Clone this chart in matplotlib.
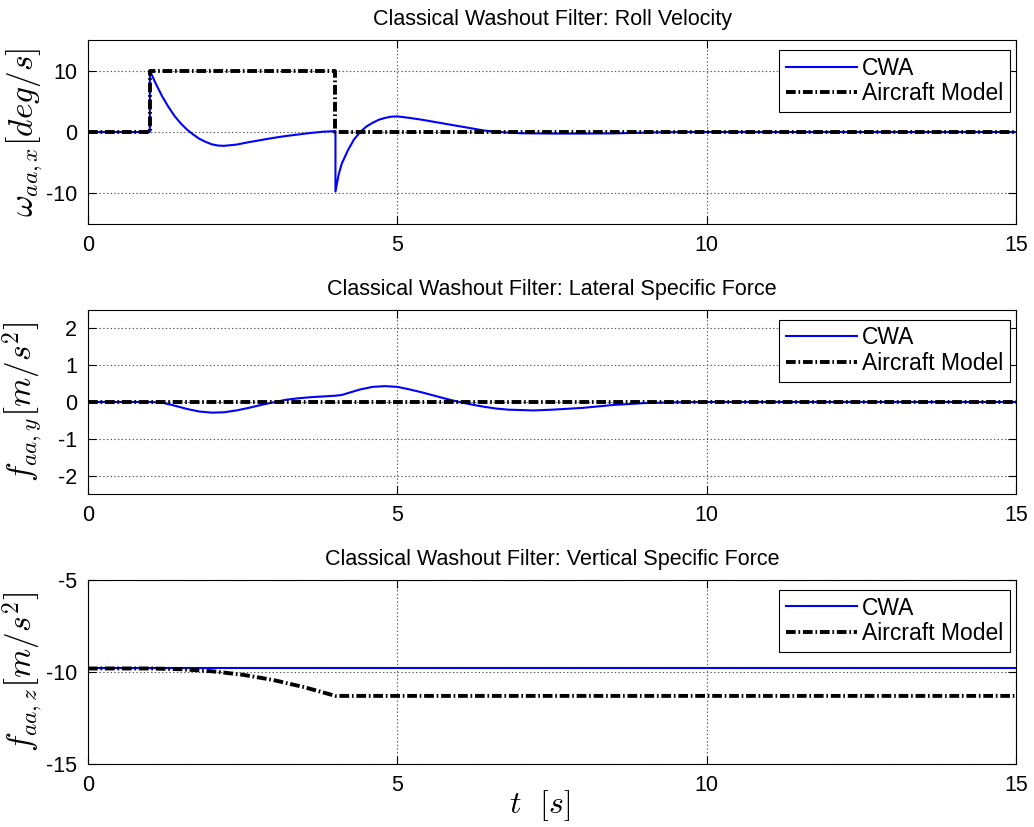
import matplotlib
matplotlib.use('Agg')
import matplotlib.pyplot as plt

plt.rcParams['font.family'] = ['Liberation Sans', 'DejaVu Sans']
plt.rcParams['mathtext.fontset'] = 'cm'
plt.rcParams['lines.scale_dashes'] = False
plt.rcParams['axes.unicode_minus'] = False

# roll velocity [deg/s]
t_roll_cwa = [0, 1.0, 1.0, 1.1, 1.2, 1.3, 1.4, 1.5, 1.6, 1.7, 1.8, 1.9, 2.0, 2.1, 2.2,
              2.4, 2.6, 2.8, 3.0, 3.2, 3.4, 3.6, 3.8, 4.0, 4.0, 4.05, 4.1, 4.2, 4.3,
              4.4, 4.5, 4.6, 4.7, 4.8, 4.9, 5.0, 5.2, 5.4, 5.6, 5.8, 6.0, 6.2, 6.4,
              6.6, 6.8, 7.0, 7.5, 8.0, 8.5, 8.8, 9.2, 9.6, 15]
roll_cwa = [0, 0, 10, 7.8, 5.8, 4.1, 2.6, 1.4, 0.4, -0.4, -1.1, -1.6, -2.0, -2.2, -2.25,
            -2.05, -1.65, -1.3, -0.95, -0.65, -0.4, -0.15, 0.05, 0.15, -9.7, -7.0, -5.2,
            -3.0, -1.2, 0.0, 0.9, 1.5, 2.0, 2.3, 2.5, 2.55, 2.3, 2.0, 1.65, 1.3, 0.95,
            0.6, 0.25, 0.05, -0.1, -0.2, -0.25, -0.25, -0.22, -0.15, -0.05, 0, 0]
t_roll_ac = [0, 1, 1, 4, 4, 15]
roll_ac = [0, 0, 10, 10, 0, 0]

# lateral specific force [m/s^2]
t_lat_cwa = [0, 1.0, 1.2, 1.4, 1.6, 1.8, 2.0, 2.2, 2.4, 2.6, 2.8, 3.0, 3.2, 3.4, 3.6,
             3.8, 4.0, 4.1, 4.2, 4.4, 4.6, 4.8, 5.0, 5.2, 5.4, 5.6, 5.8, 6.0, 6.2,
             6.4, 6.6, 6.8, 7.0, 7.2, 7.5, 8.0, 8.5, 9.0, 9.5, 10, 15]
lat_cwa = [0, 0, -0.02, -0.1, -0.19, -0.26, -0.29, -0.28, -0.23, -0.16, -0.08, -0.01,
           0.06, 0.1, 0.13, 0.15, 0.17, 0.19, 0.24, 0.34, 0.41, 0.43, 0.41, 0.34, 0.26,
           0.17, 0.08, 0.0, -0.07, -0.13, -0.18, -0.21, -0.22, -0.23, -0.21, -0.16,
           -0.08, -0.03, -0.01, 0, 0]
t_lat_ac = [0, 15]
lat_ac = [0, 0]

# vertical specific force [m/s^2]
t_vert_cwa = [0, 15]
vert_cwa = [-9.81, -9.81]
t_vert_ac = [0, 1.0, 1.5, 2.0, 2.5, 3.0, 3.5, 4.0, 15]
vert_ac = [-9.81, -9.81, -9.85, -9.96, -10.15, -10.44, -10.83, -11.3, -11.3]

titles = ['Classical Washout Filter: Roll Velocity',
          'Classical Washout Filter: Lateral Specific Force',
          'Classical Washout Filter: Vertical Specific Force']
ylabels = [r'$\omega_{aa,x}\left[deg/s\right]$',
           r'$f_{aa,y}\left[m/s^2\right]$',
           r'$f_{aa,z}\left[m/s^2\right]$']
ylims = [(-15, 15), (-2.5, 2.5), (-15, -5)]
yticks = [[-10, 0, 10], [-2, -1, 0, 1, 2], [-15, -10, -5]]
xticks = [0, 5, 10, 15]

data = [(t_roll_cwa, roll_cwa, t_roll_ac, roll_ac),
        (t_lat_cwa, lat_cwa, t_lat_ac, lat_ac),
        (t_vert_cwa, vert_cwa, t_vert_ac, vert_ac)]

fig = plt.figure(figsize=(10.34, 8.27), dpi=100)
bottoms = [0.7291, 0.4027, 0.0762]

for i in range(3):
    ax = fig.add_axes([0.0851, bottoms[i], 0.8975, 0.2225])
    tc, yc, ta, ya = data[i]
    ax.plot(tc, yc, color='b', lw=1.5, label='CWA')
    ax.plot(ta, ya, color='k', lw=2.8, linestyle=(0, (7, 2, 1.2, 2)), label='Aircraft Model')
    ax.set_xlim(0, 15)
    ax.set_ylim(*ylims[i])
    ax.set_xticks(xticks)
    ax.set_yticks(yticks[i])
    ax.grid(True, linestyle=':', color='0.35', lw=0.8)
    ax.tick_params(direction='in', top=True, right=True, length=6, labelsize=15.5, pad=8)
    ax.set_title(titles[i], fontsize=15.5, pad=11)
    ax.set_ylabel(ylabels[i], fontsize=24)
    ax.yaxis.set_label_coords(-0.046, 0.5)
    leg = ax.legend(loc='upper right', bbox_to_anchor=(0.9935, 0.945), fontsize=16.5,
                    fancybox=False, framealpha=1, edgecolor='k', borderaxespad=0,
                    borderpad=0.28, labelspacing=0.12, handlelength=3.1, handletextpad=0.25)
    leg.get_frame().set_linewidth(0.8)

ax.set_xlabel(r'$t\ \ [s]$', fontsize=23)
ax.xaxis.set_label_coords(0.487, -0.13)

plt.savefig('out.png', dpi=100)
